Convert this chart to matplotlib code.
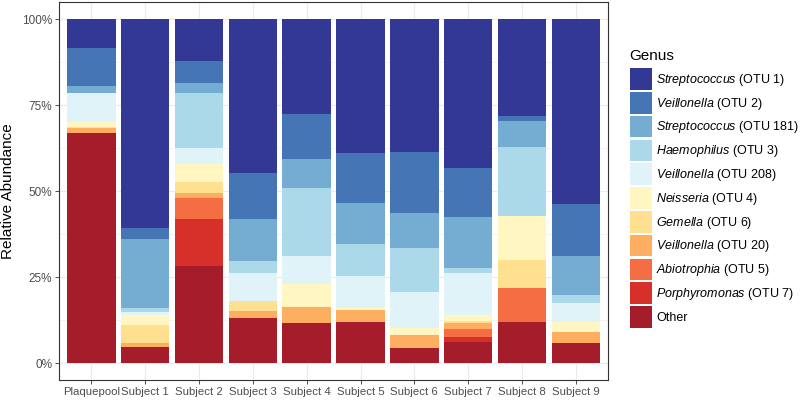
import matplotlib
matplotlib.use("Agg")
import matplotlib.pyplot as plt
import numpy as np

plt.rcParams['font.family'] = ['Liberation Sans', 'DejaVu Sans']
plt.rcParams['mathtext.fontset'] = 'custom'
plt.rcParams['mathtext.it'] = 'Liberation Sans:italic'
plt.rcParams['mathtext.rm'] = 'Liberation Sans'

samples = ["Plaquepool", "Subject 1", "Subject 2", "Subject 3", "Subject 4",
           "Subject 5", "Subject 6", "Subject 7", "Subject 8", "Subject 9"]

# legend order (top to bottom); genus name, OTU label
genera = [("Streptococcus", "(OTU 1)"), ("Veillonella", "(OTU 2)"),
          ("Streptococcus", "(OTU 181)"), ("Haemophilus", "(OTU 3)"),
          ("Veillonella", "(OTU 208)"), ("Neisseria", "(OTU 4)"),
          ("Gemella", "(OTU 6)"), ("Veillonella", "(OTU 20)"),
          ("Abiotrophia", "(OTU 5)"), ("Porphyromonas", "(OTU 7)"),
          ("Other", "")]

colors = ["#333895", "#4575b4", "#74add1", "#abd9e9", "#e0f3f8", "#fff6c2",
          "#fee090", "#fdae61", "#f46d43", "#d7302a", "#a51c2b"]

# relative abundance (%) per sample, one list per genus (legend order)
strep_otu1 = [8.5, 60.8, 12.1, 44.9, 27.7, 39.0, 38.8, 43.4, 28.2, 53.9]
veil_otu2 = [11.0, 3.2, 6.6, 13.3, 13.0, 14.6, 17.7, 14.1, 1.4, 15.0]
strep_otu181 = [2.0, 20.1, 2.7, 12.1, 8.5, 11.9, 10.2, 14.8, 7.7, 11.3]
haem_otu3 = [0.0, 1.0, 16.2, 3.6, 19.7, 9.1, 12.6, 1.6, 20.0, 2.3]
veil_otu208 = [8.4, 0.9, 4.6, 8.0, 8.0, 9.5, 10.6, 12.1, 0.0, 5.5]
neis_otu4 = [1.4, 3.0, 5.1, 0.0, 6.7, 0.6, 2.0, 1.8, 12.8, 2.9]
gem_otu6 = [0.4, 5.3, 3.2, 2.9, 0.0, 0.0, 0.0, 0.7, 8.0, 0.0]
veil_otu20 = [1.3, 1.1, 1.6, 2.2, 4.8, 3.3, 3.7, 1.7, 0.0, 3.4]
abio_otu5 = [0.0, 0.0, 6.0, 0.0, 0.0, 0.0, 0.0, 2.2, 10.1, 0.0]
porph_otu7 = [0.0, 0.0, 13.6, 0.0, 0.0, 0.0, 0.0, 1.4, 0.0, 0.0]
other = [67.0, 4.6, 28.3, 13.0, 11.6, 12.0, 4.4, 6.2, 11.8, 5.7]

series = [strep_otu1, veil_otu2, strep_otu181, haem_otu3, veil_otu208,
          neis_otu4, gem_otu6, veil_otu20, abio_otu5, porph_otu7, other]

fig = plt.figure(figsize=(8, 4), dpi=100)
ax = fig.add_axes([0.074, 0.0495, 0.686, 0.946])

x = np.arange(len(samples))
bottom = np.zeros(len(samples))
handles = {}
# stack from bottom: Other first, Streptococcus OTU1 on top
for i in range(len(series) - 1, -1, -1):
    vals = np.array(series[i]) / 100.0
    h = ax.bar(x, vals, width=0.9, bottom=bottom, color=colors[i],
               edgecolor='none', zorder=3)
    handles[i] = h
    bottom += vals

ax.set_xlim(-0.6, len(samples) - 0.4)
ax.set_ylim(-0.05, 1.05)
ax.set_xticks(x)
ax.set_xticklabels(samples, fontsize=8.2, color="#4d4d4d")
ax.set_yticks([0, 0.25, 0.5, 0.75, 1.0])
ax.set_yticklabels(["0%", "25%", "50%", "75%", "100%"], fontsize=8.5, color="#4d4d4d")
ax.set_yticks([0.125, 0.375, 0.625, 0.875], minor=True)
ax.tick_params(axis='both', which='major', length=3, width=0.6, color="#333333", pad=2)
ax.tick_params(axis='y', which='minor', length=0)
ax.grid(True, which='major', color="#ebebeb", linewidth=0.8, zorder=0)
ax.grid(True, which='minor', axis='y', color="#ebebeb", linewidth=0.4, zorder=0)
ax.set_axisbelow(True)
for s in ax.spines.values():
    s.set_color("#333333")
    s.set_linewidth(0.8)
ax.set_ylabel("Relative Abundance", fontsize=11)
ax.yaxis.set_label_coords(-0.081, 0.5)

labels = []
for g, otu in genera:
    if otu:
        labels.append(r"$\it{" + g + "}$ " + otu)
    else:
        labels.append(g)

leg = fig.legend([handles[i] for i in range(len(genera))], labels,
                 loc='upper left', bbox_to_anchor=(0.787, 0.8785),
                 frameon=False, fontsize=9, title="Genus", title_fontsize=11,
                 alignment='left', handlelength=1.78, handleheight=2.29,
                 labelspacing=0.17, handletextpad=0.35, borderpad=0,
                 borderaxespad=0)
leg._legend_box.sep = 4

fig.savefig("out.png", dpi=100)
